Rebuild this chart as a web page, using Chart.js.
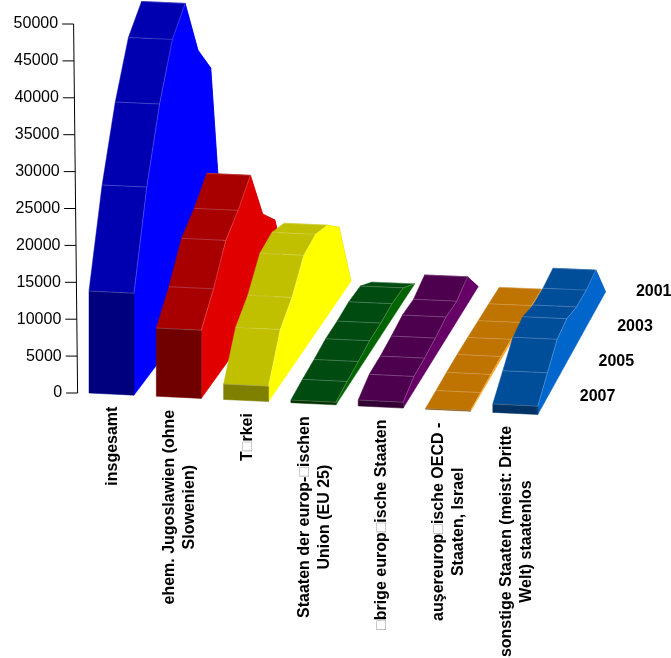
<!DOCTYPE html>
<html lang="de">
<head>
<meta charset="utf-8">
<title>3D-Flächendiagramm</title>
<script src="https://cdn.jsdelivr.net/npm/chart.js@4/dist/chart.umd.min.js"></script>
<style>
    html, body { margin: 0; padding: 0; background: #fff; }
    canvas { display: block; }
</style>
</head>
<body>
<canvas id="areaChart" width="671" height="658"></canvas>
<script>
// Years along the depth axis, oldest (back) to newest (front)
const years = [2000, 2001, 2002, 2003, 2004, 2005, 2006, 2007];
const yearLabels = [2001, 2003, 2005, 2007];

const MISSING_GLYPH = '\u25A1';
const categories = [
    ['insgesamt'],
    ['ehem. Jugoslawien (ohne', 'Slowenien)'],
    ['T\u25A1rkei'],
    ['Staaten der europ-\u25A1ischen', 'Union (EU 25)'],
    ['\u25A1brige europ\u25A1ische Staaten'],
    ['au\u015Fereurop\u25A1ische OECD -', 'Staaten, Israel'],
    ['sonstige Staaten (meist: Dritte', 'Welt) staatenlos']
];

const insgesamt = [2400, 30500, 35230, 43870, 41290, 34840, 25890, 13820];
const jugoslawien = [500, 10270, 13400, 20970, 18530, 16780, 12530, 9240];
const tuerkei = [50, 9650, 12280, 13370, 12850, 9470, 7450, 2090];
const euStaaten = [30, 1820, 2020, 1730, 1670, 1200, 830, 350];
const uebrigeEuropa = [0, 3690, 2740, 2940, 2440, 2070, 1940, 800];
const aussereuropa = [30, 150, 220, 300, 350, 280, 170, 100];
const sonstige = [0, 5330, 4990, 5090, 5870, 5450, 3280, 1140];
const seriesValues = [insgesamt, jugoslawien, tuerkei, euStaaten, uebrigeEuropa, aussereuropa, sonstige];

// side, top and front shade for each ribbon
const shades = [
    ['#0000ff', '#0000b0', '#00007f'],
    ['#e00000', '#a80000', '#700000'],
    ['#ffff00', '#c0c000', '#7f7f00'],
    ['#006400', '#004b10', '#003200'],
    ['#660066', '#4d004d', '#330033'],
    ['#ff9900', '#bf7300', '#7f4d00'],
    ['#0066cc', '#004d99', '#003366']
];

// Camera for the fake 3D: floor corners in canvas pixels
const ZERO_Y = 393;
const TOP_Y = 24;
const MAX_VALUE = 50000;
const UNITS_PER_PX = MAX_VALUE / (ZERO_Y - TOP_Y);
const RIBBON_STEP = 67.3;
const RIBBON_WIDTH = 45;
const MAX_DEPTH = years.length - 1;

// Floor position of a spot u px along the front edge, `depth` years back
function floorPoint(u, depth) {
    const t = depth / MAX_DEPTH;
    const frontX = 89 + u;
    const backX = 181 + 0.946 * u;
    const frontY = 393 + 0.048 * u;
    const backY = 274.4 + 0.039 * u;
    return { x: frontX + t * (backX - frontX), y: frontY + t * (backY - frontY) };
}

// Value at a floor spot, expressed in the units of the two linear scales
function project(u, depth, value) {
    const p = floorPoint(u, depth);
    return { x: p.x, y: value + (ZERO_Y - p.y) * UNITS_PER_PX };
}

// One dataset per ribbon: left edge, right edge, right floor, left floor (index = depth)
function ribbonPoints(values, index) {
    const uLeft = index * RIBBON_STEP;
    const uRight = uLeft + RIBBON_WIDTH;
    const byDepth = values.slice().reverse();
    const pts = [];
    byDepth.forEach((v, d) => pts.push(project(uLeft, d, v)));
    byDepth.forEach((v, d) => pts.push(project(uRight, d, v)));
    byDepth.forEach((v, d) => pts.push(project(uRight, d, 0)));
    byDepth.forEach((v, d) => pts.push(project(uLeft, d, 0)));
    return pts;
}

function fillPolygon(ctx, points, color) {
    ctx.beginPath();
    points.forEach((p, i) => i ? ctx.lineTo(p.x, p.y) : ctx.moveTo(p.x, p.y));
    ctx.closePath();
    ctx.fillStyle = color;
    ctx.strokeStyle = color;
    ctx.lineWidth = 0.5;
    ctx.fill();
    ctx.stroke();
}

function edgeLine(ctx, a, b) {
    ctx.beginPath();
    ctx.moveTo(a.x, a.y);
    ctx.lineTo(b.x, b.y);
    ctx.stroke();
}

// Draws one label line centred on 0,0; missing glyph boxes come out pale
function drawLabelLine(ctx, line) {
    ctx.textAlign = 'left';
    let x = -ctx.measureText(line).width / 2;
    line.split(new RegExp('(' + MISSING_GLYPH + ')')).forEach(piece => {
        ctx.fillStyle = piece === MISSING_GLYPH ? '#aaa' : '#000';
        ctx.fillText(piece, x, 0);
        x += ctx.measureText(piece).width;
    });
}

const ribbonPlugin = {
    id: 'ribbons',
    beforeDatasetsDraw(chart) {
        const ctx = chart.ctx;
        const n = years.length;
        ctx.save();
        chart.data.datasets.forEach((ds, i) => {
            const pts = chart.getDatasetMeta(i).data;
            const left = pts.slice(0, n);
            const right = pts.slice(n, 2 * n);
            const rightFloor = pts.slice(2 * n, 3 * n);
            const leftFloor = pts.slice(3 * n, 4 * n);
            const [sideColor, topColor, frontColor] = shades[i];

            // back to front so nearer strips cover the far slope
            for (let d = MAX_DEPTH - 1; d >= 0; d--) {
                fillPolygon(ctx, [left[d], right[d], right[d + 1], left[d + 1]], topColor);
            }
            fillPolygon(ctx, right.concat([rightFloor[MAX_DEPTH], rightFloor[0]]), sideColor);
            fillPolygon(ctx, [left[0], right[0], rightFloor[0], leftFloor[0]], frontColor);

            // edge lines only where the strip faces the viewer
            ctx.strokeStyle = 'rgba(255,255,255,0.3)';
            ctx.lineWidth = 0.7;
            for (let d = 0; d <= MAX_DEPTH; d++) {
                edgeLine(ctx, left[d], right[d]);
                if (d === MAX_DEPTH || left[d + 1].y >= left[d].y) break;
                edgeLine(ctx, right[d], right[d + 1]);
            }
        });
        ctx.restore();
    },
    afterDatasetsDraw(chart) {
        const ctx = chart.ctx;
        const yScale = chart.scales.y;
        const xScale = chart.scales.x;
        ctx.save();

        // value axis leans slightly to the left going up
        const axisX = v => 77.6 - 4 * v / MAX_VALUE;
        ctx.strokeStyle = '#000';
        ctx.lineWidth = 1;
        edgeLine(ctx, { x: axisX(0), y: yScale.getPixelForValue(0) }, { x: axisX(MAX_VALUE), y: yScale.getPixelForValue(MAX_VALUE) });
        ctx.fillStyle = '#000';
        ctx.font = '16px "Liberation Sans", Arial, sans-serif';
        ctx.textAlign = 'right';
        ctx.textBaseline = 'middle';
        yScale.ticks.forEach(t => {
            const y = yScale.getPixelForValue(t.value);
            const x = axisX(t.value);
            edgeLine(ctx, { x: x - 11.5, y: y }, { x: x, y: y });
            ctx.fillText(String(t.value), x - 15.5, y);
        });

        // year labels run along the right edge of the last ribbon
        ctx.font = 'bold 16px "Liberation Sans", Arial, sans-serif';
        ctx.textAlign = 'left';
        const lastU = (categories.length - 1) * RIBBON_STEP + RIBBON_WIDTH;
        yearLabels.forEach(year => {
            const depth = years[MAX_DEPTH] - year;
            const p = floorPoint(lastU, depth);
            ctx.fillText(String(year), xScale.getPixelForValue(p.x + 42 - depth / 3), p.y - 18);
        });

        // rotated category names below each ribbon, lines centred on each other
        categories.forEach((lines, i) => {
            const u = i * RIBBON_STEP + RIBBON_WIDTH / 2;
            const p = floorPoint(u, 0);
            const widest = Math.max(...lines.map(l => ctx.measureText(l).width));
            const lineGap = 20;
            lines.forEach((line, k) => {
                ctx.save();
                ctx.translate(xScale.getPixelForValue(p.x) + 1 + (k - (lines.length - 1) / 2) * lineGap, p.y + 12.5 + widest / 2);
                ctx.rotate(-Math.PI / 2);
                drawLabelLine(ctx, line);
                ctx.restore();
            });
        });
        ctx.restore();
    }
};

new Chart(document.getElementById('areaChart'), {
    type: 'scatter',
    data: {
        datasets: seriesValues.map((values, i) => ({
            label: categories[i].join(' '),
            data: ribbonPoints(values, i),
            pointRadius: 0,
            showLine: false
        }))
    },
    options: {
        responsive: false,
        animation: false,
        layout: { padding: { top: TOP_Y, bottom: 658 - ZERO_Y, left: 0, right: 0 } },
        plugins: { legend: { display: false }, tooltip: { enabled: false } },
        scales: {
            x: { type: 'linear', min: 0, max: 671, display: false },
            y: {
                type: 'linear',
                min: 0,
                max: MAX_VALUE,
                grid: { display: false },
                border: { display: false },
                ticks: { display: false, stepSize: 5000 },
                afterFit: s => { s.width = 0; }
            }
        }
    },
    plugins: [ribbonPlugin]
});
</script>
</body>
</html>
